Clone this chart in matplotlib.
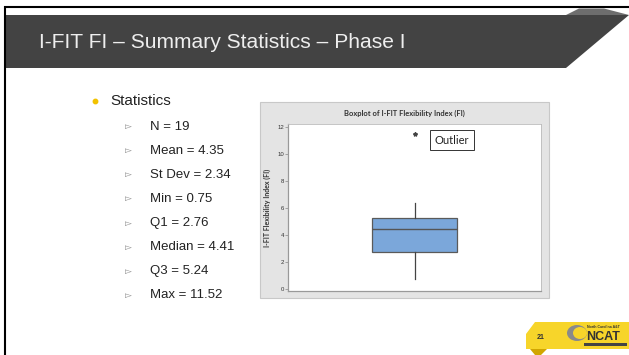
import matplotlib
matplotlib.use('Agg')
import matplotlib.pyplot as plt
from matplotlib.patches import Polygon, Rectangle, Ellipse

# summary statistics of I-FIT FI, phase I
stat_labels = ['N = 19', 'Mean = 4.35', 'St Dev = 2.34', 'Min = 0.75',
               'Q1 = 2.76', 'Median = 4.41', 'Q3 = 5.24', 'Max = 11.52']
q1, med, q3 = 2.76, 4.41, 5.24
whisker_lo, whisker_hi = 0.75, 6.35
outliers = [11.52]
yticks = [0, 2, 4, 6, 8, 10, 12]

plt.rcParams['font.family'] = ['Liberation Sans', 'DejaVu Sans']

W, H = 629, 355
fig = plt.figure(figsize=(W / 100, H / 100), dpi=100)
fig.patch.set_facecolor('white')

# slide background drawn in pixel coordinates
bg = fig.add_axes([0, 0, 1, 1])
bg.set_xlim(0, W)
bg.set_ylim(H, 0)
bg.axis('off')

bg.plot([4, W], [6.5, 6.5], color='black', lw=1.5, solid_capstyle='butt')
bg.plot([5, 5], [6, H], color='black', lw=1.5, solid_capstyle='butt')

bg.add_patch(Polygon([(6, 15), (W, 15), (566, 68), (6, 68)], closed=True,
                     fc='#434343', ec='none'))
bg.add_patch(Polygon([(566, 15), (579, 8.5), (604, 8.5), (W, 15)], closed=True,
                     fc='#6e6e6e', ec='none'))
bg.text(39, 42, 'I-FIT FI \u2013 Summary Statistics \u2013 Phase I', color='#eeeeee',
        fontsize=15.1, va='center', ha='left')

# bullet list
bg.plot([95], [100.7], 'o', color='#f2c200', ms=3.2)
bg.text(110, 100.7, 'Statistics', fontsize=11, va='center', color='#222222')
for i, lab in enumerate(stat_labels):
    y = 126.7 + i * 24.1
    bg.text(128, y, '\u25bb', fontsize=6.5, va='center', ha='center', color='#888888')
    bg.text(150.5, y, lab, fontsize=9.5, va='center', color='#222222')

# chart panel
bg.add_patch(Rectangle((260, 102), 289, 196, fc='#e4e4e4', ec='#c8c8c8', lw=0.8))
bg.text(404.5, 113.5, 'Boxplot of I-FIT Flexibility Index (FI)', fontsize=5.4,
        fontweight='bold', ha='center', va='center', color='#333333',
        family=['Lato', 'DejaVu Sans'])

# footer
bg.add_patch(Polygon([(535, 322), (W, 322), (W, 349), (526, 349), (526, 334)],
                     closed=True, fc='#f7d52a', ec='none'))
bg.add_patch(Polygon([(530, 349), (547, 349), (541, 355), (535, 355)],
                     closed=True, fc='#d1a600', ec='none'))
bg.text(541, 337.5, '21', fontsize=5, fontweight='bold', ha='center', va='center',
        color='#333333')
bg.add_patch(Ellipse((577, 333), 20, 16, fc='#8a8a8a', ec='none'))
bg.add_patch(Ellipse((580, 333), 14, 12, fc='#f7d52a', ec='none'))
bg.text(603, 327.5, 'North Carolina A&T', fontsize=2.5, fontweight='bold',
        ha='center', va='center', color='#333333')
bg.text(603, 336.5, 'NCAT', fontsize=9, fontweight='bold', ha='center', va='center',
        color='#333333')
bg.add_patch(Rectangle((584, 343), 43, 3, fc='#444444', ec='none'))

# boxplot axes
ax = fig.add_axes([288 / W, 1 - 291 / H, (541 - 288) / W, (291 - 124) / H])
ax.set_facecolor('white')
stats = [dict(med=med, q1=q1, q3=q3, whislo=whisker_lo, whishi=whisker_hi,
              fliers=outliers)]
ax.bxp(stats, positions=[1], widths=0.334, patch_artist=True, showcaps=False,
       boxprops=dict(facecolor='#7ba7da', edgecolor='#5a5a5a', lw=0.9),
       medianprops=dict(color='#555555', lw=1.0),
       whiskerprops=dict(color='#444444', lw=0.9),
       flierprops=dict(marker='*', markersize=3, markerfacecolor='#444444',
                       markeredgecolor='#444444'))
ax.set_xlim(0.5, 1.5)
ax.set_ylim(-0.18, 12.25)
ax.set_xticks([])
ax.set_yticks(yticks)
ax.tick_params(axis='y', labelsize=4.3, length=2, width=0.5, pad=1,
               colors='#888888', labelcolor='#333333')
for side in ['left', 'bottom']:
    ax.spines[side].set_color('#999999')
    ax.spines[side].set_linewidth(0.9)
for side in ['top', 'right']:
    ax.spines[side].set_color('#bbbbbb')
    ax.spines[side].set_linewidth(0.6)
ax.set_ylabel('I-FIT Flexibility Index (FI)', fontsize=5.0, fontweight='bold',
              color='#333333', family=['Lato', 'DejaVu Sans'])
ax.yaxis.set_label_coords(-0.068, 0.5)

ax.text(452, 140, 'Outlier', transform=bg.transData, fontsize=8, ha='center',
        va='center', color='#222222', family=['Lato', 'DejaVu Sans'],
        bbox=dict(boxstyle='square,pad=0.4', fc='white', ec='#333333', lw=0.7))

fig.savefig('out.png', dpi=100)
